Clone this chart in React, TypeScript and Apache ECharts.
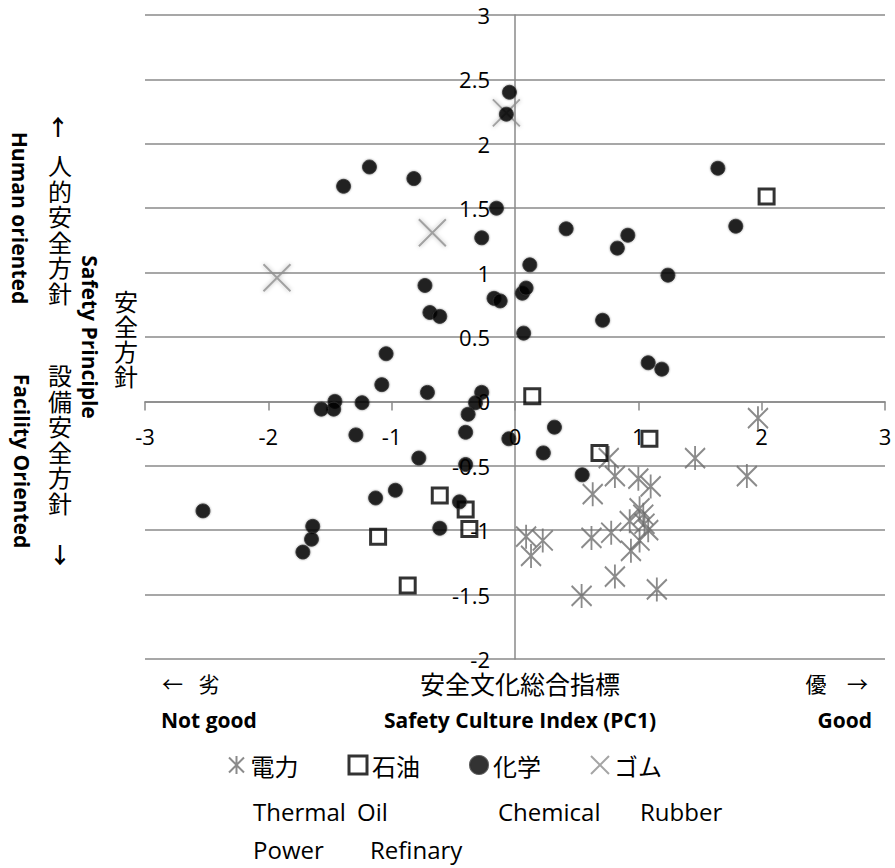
import React, { useEffect, useRef } from "react";
import * as echarts from "echarts";

// ---- data ----
const xTicks = [-3, -2, -1, 0, 1, 2, 3];
const yTicks = [-2, -1.5, -1, -0.5, 0, 0.5, 1, 1.5, 2, 2.5, 3];

const legendNames = ["電力", "石油", "化学", "ゴム"];
const legendEnglishTop = ["Thermal", "Oil", "Chemical", "Rubber"];
const legendEnglishBottom = ["Power", "Refinary"];

const thermalPoints: number[][] = [
  [1.97, -0.13], [1.46, -0.44], [1.88, -0.58], [0.76, -0.44], [0.81, -0.58],
  [1.0, -0.6], [1.1, -0.66], [0.63, -0.72], [1.01, -0.83], [1.04, -0.88],
  [0.93, -0.93], [1.05, -0.95], [1.08, -1.0], [1.01, -1.08], [0.62, -1.06],
  [0.78, -1.02], [0.94, -1.16], [0.81, -1.36], [0.54, -1.51], [1.15, -1.46],
  [0.09, -1.05], [0.225, -1.08], [0.13, -1.2],
];

const oilPoints: number[][] = [
  [2.04, 1.59], [-0.61, -0.73], [-0.4, -0.84], [-0.37, -0.99], [-1.11, -1.05],
  [-0.87, -1.43], [0.14, 0.04], [1.09, -0.29], [0.685, -0.4],
];

const chemicalPoints: number[][] = [
  [-0.045, 2.4], [-0.07, 2.23], [-1.18, 1.82], [-1.39, 1.67], [-0.82, 1.73],
  [-0.15, 1.5], [-0.27, 1.27], [-0.73, 0.9], [-0.69, 0.69], [-0.61, 0.66],
  [-0.17, 0.8], [-0.12, 0.78], [0.06, 0.84], [0.09, 0.88], [1.645, 1.81],
  [1.79, 1.36], [0.415, 1.34], [0.915, 1.29], [0.83, 1.19], [0.12, 1.06],
  [1.24, 0.98], [0.71, 0.63], [0.07, 0.53], [-1.045, 0.37], [-1.08, 0.13],
  [-0.71, 0.07], [-0.27, 0.07], [-0.32, -0.01], [-1.46, 0.0], [-1.47, -0.06],
  [-1.57, -0.06], [-1.24, -0.01], [-0.38, -0.1], [-1.29, -0.26], [-0.4, -0.24],
  [-0.05, -0.29], [-0.78, -0.44], [-0.4, -0.49], [-0.97, -0.69], [-1.13, -0.75],
  [-0.45, -0.78], [-2.53, -0.85], [-0.61, -0.985], [-1.64, -0.97], [-1.65, -1.07],
  [-1.72, -1.17], [1.08, 0.3], [1.19, 0.25], [0.32, -0.2], [0.23, -0.4],
  [0.545, -0.57],
];

const rubberPoints: number[][] = [
  [-0.07, 2.24], [-0.67, 1.31], [-1.93, 0.96],
];

const LAT = "'Open Sans', 'Noto Sans CJK JP', sans-serif";
const CJK = "'Noto Sans CJK JP', sans-serif";
const GRID = "#8a8a8a";

const W = 895;
const H = 868;
const G = { left: 145, right: 10, top: 15, bottom: 209 };

function txt(x: number, y: number, text: string, o: any = {}) {
  return {
    type: "text",
    x,
    y,
    rotation: o.rotation || 0,
    silent: true,
    style: {
      text,
      fill: "#000",
      fontSize: o.fontSize || 21,
      fontFamily: o.fontFamily || LAT,
      fontWeight: o.fontWeight || "normal",
      align: o.align || "center",
      verticalAlign: o.verticalAlign || "middle",
      lineHeight: o.lineHeight,
    },
  };
}

export default function App() {
  const ref = useRef<HTMLDivElement>(null);
  useEffect(() => {
    if (!ref.current) return;
    const chart = echarts.init(ref.current, null, { renderer: "svg" });
    const xMin = xTicks[0];
    const xMax = xTicks[xTicks.length - 1];
    const yMin = yTicks[0];
    const yMax = yTicks[yTicks.length - 1];
    const gridW = W - G.left - G.right;
    const gridH = H - G.top - G.bottom;
    // place both axes through the origin (axis + ticks + labels together)
    const xAxisOffset = -gridH * ((0 - yMin) / (yMax - yMin));
    const yAxisOffset = -gridW * ((0 - xMin) / (xMax - xMin));
    const option: any = {
      animation: false,
      backgroundColor: "#fff",
      grid: { ...G, containLabel: false, outerBoundsMode: "none" },
      xAxis: {
        type: "value",
        position: "bottom",
        offset: xAxisOffset,
        min: xMin,
        max: xMax,
        interval: 1,
        axisLine: { show: true, onZero: false, lineStyle: { color: GRID, width: 1.5 } },
        axisTick: { show: true, length: 9, lineStyle: { color: GRID, width: 1.5 } },
        splitLine: { show: false },
        axisLabel: { margin: 24, fontSize: 22, color: "#000", fontFamily: LAT },
      },
      yAxis: {
        type: "value",
        position: "left",
        offset: yAxisOffset,
        min: yMin,
        max: yMax,
        interval: 0.5,
        axisLine: { show: true, onZero: false, lineStyle: { color: GRID, width: 1.5 } },
        axisTick: { show: false },
        splitLine: { show: true, lineStyle: { color: GRID, width: 1.5 } },
        axisLabel: { margin: 25, fontSize: 22, color: "#000", fontFamily: LAT },
      },
      legend: {
        data: [
          { name: legendNames[0] },
          { name: legendNames[1], itemStyle: { borderWidth: 3 } },
          { name: legendNames[2] },
          { name: legendNames[3] },
        ],
        left: 228,
        top: 753,
        padding: 0,
        itemWidth: 18,
        itemHeight: 18,
        itemGap: 49,
        selectedMode: false,
        textStyle: { fontSize: 24, fontFamily: CJK, color: "#000", padding: [0, 0, 0, 0] },
      },
      series: [
        {
          name: "ゴム",
          type: "scatter",
          z: 2,
          symbol: "path://M0,0L10,10M10,0L0,10",
          symbolSize: 27,
          data: rubberPoints,
          itemStyle: {
            color: "#8f8f8f",
            borderColor: "#8f8f8f",
            borderWidth: 2,
            shadowBlur: 4,
            shadowColor: "rgba(0,0,0,0.35)",
          },
        },
        {
          name: "電力",
          type: "scatter",
          z: 3,
          symbol: "path://M0,2L20,22M20,2L0,22M10,0L10,24",
          symbolSize: [20, 24],
          data: thermalPoints,
          itemStyle: { color: "#6e6e6e", borderColor: "#6e6e6e", borderWidth: 2 },
        },
        {
          name: "石油",
          type: "scatter",
          z: 4,
          symbol: "rect",
          symbolSize: 15,
          data: oilPoints,
          itemStyle: { color: "rgba(255,255,255,0)", borderColor: "#000", borderWidth: 3 },
        },
        {
          name: "化学",
          type: "scatter",
          z: 5,
          symbol: "circle",
          symbolSize: 14,
          data: chemicalPoints,
          itemStyle: {
            color: "#000",
            borderColor: "#333",
            borderWidth: 1,
            shadowBlur: 2,
            shadowColor: "rgba(0,0,0,0.45)",
          },
        },
      ],
      graphic: [
        // bottom axis captions
        txt(162, 683, "←", { align: "left", fontFamily: CJK, fontSize: 21 }),
        txt(209, 683, "劣", { fontFamily: CJK, fontSize: 21 }),
        txt(520, 683, "安全文化総合指標", { fontFamily: CJK, fontSize: 25 }),
        txt(816, 683, "優", { fontFamily: CJK, fontSize: 21 }),
        txt(868, 683, "→", { align: "right", fontFamily: CJK, fontSize: 21 }),
        txt(161, 720, "Not good", { align: "left", fontWeight: "bold" }),
        txt(520, 720, "Safety Culture Index (PC1)", { fontWeight: "bold" }),
        txt(872, 720, "Good", { align: "right", fontWeight: "bold" }),
        // legend English captions
        txt(253, 811, legendEnglishTop[0], { align: "left", fontSize: 24 }),
        txt(357, 811, legendEnglishTop[1], { align: "left", fontSize: 24 }),
        txt(498, 811, legendEnglishTop[2], { align: "left", fontSize: 24 }),
        txt(640, 811, legendEnglishTop[3], { align: "left", fontSize: 24 }),
        txt(253, 849, legendEnglishBottom[0], { align: "left", fontSize: 24 }),
        txt(370, 849, legendEnglishBottom[1], { align: "left", fontSize: 24 }),
        // left vertical captions
        txt(20, 218, "Human oriented", { fontWeight: "bold", rotation: -Math.PI / 2 }),
        txt(22, 461, "Facility Oriented", { fontWeight: "bold", rotation: -Math.PI / 2 }),
        txt(90, 337, "Safety Principle", { fontWeight: "bold", rotation: -Math.PI / 2 }),
        txt(58, 125, "↑", { fontFamily: CJK, fontSize: 22, fontWeight: "bold" }),
        txt(60, 152, "人\n的\n安\n全\n方\n針", { fontFamily: CJK, fontSize: 24, verticalAlign: "top", lineHeight: 25.5 }),
        txt(60, 362, "設\n備\n安\n全\n方\n針", { fontFamily: CJK, fontSize: 24, verticalAlign: "top", lineHeight: 25.5 }),
        txt(60, 553, "↓", { fontFamily: CJK, fontSize: 22, fontWeight: "bold" }),
        txt(126, 288, "安\n全\n方\n針", { fontFamily: CJK, fontSize: 24, verticalAlign: "top", lineHeight: 25 }),
      ],
    };
    chart.setOption(option);
    return () => chart.dispose();
  }, []);
  return (
    <div
      ref={ref}
      style={{ position: "fixed", left: 0, top: 0, width: W, height: H, background: "#fff" }}
    />
  );
}
